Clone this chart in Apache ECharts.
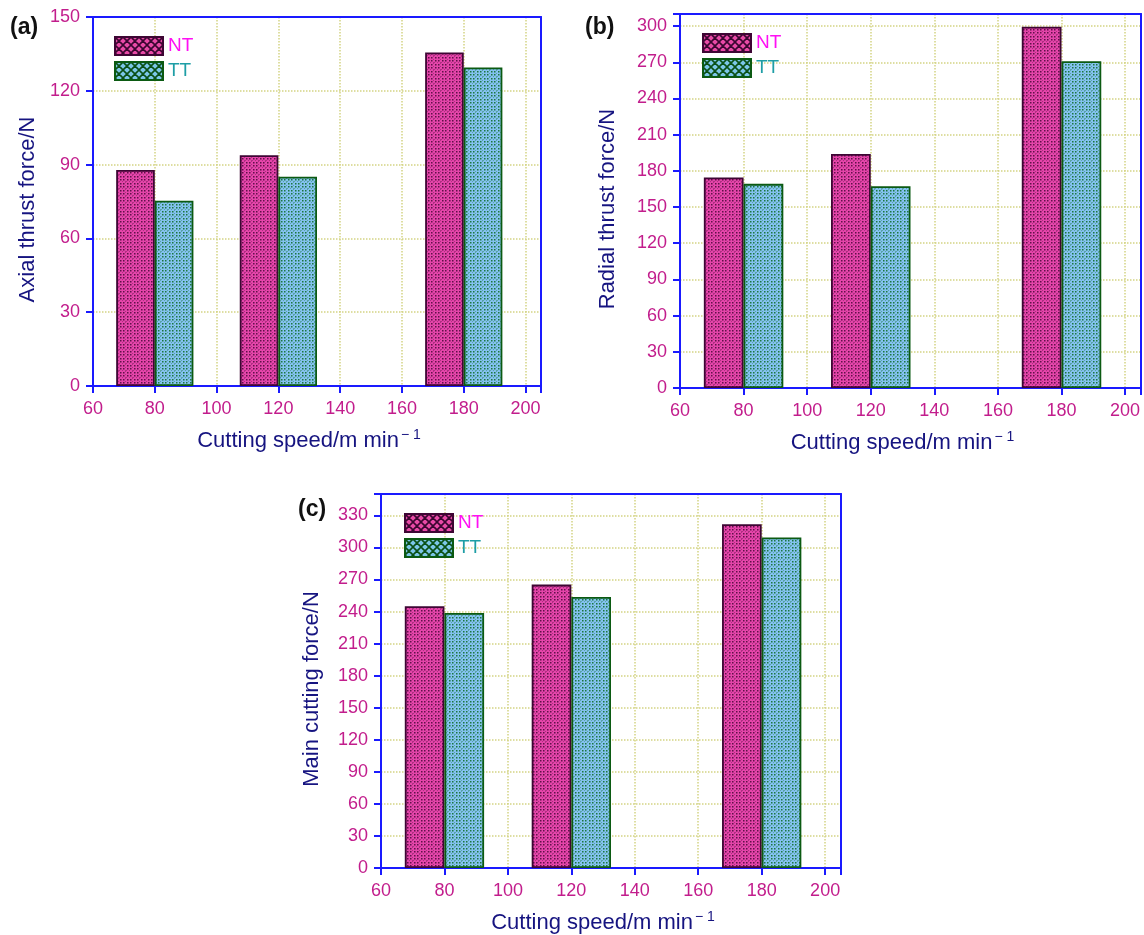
<!DOCTYPE html>
<html><head><meta charset="utf-8">
<script src="https://cdn.jsdelivr.net/npm/echarts@6/dist/echarts.min.js"></script>
<style>html,body{margin:0;padding:0;background:#fff}#c{width:1144px;height:935px}</style>
</head><body><div id="c"></div>
<script>
// ---- data ----
const speeds = [80, 120, 180];
const xTicks = [60, 80, 100, 120, 140, 160, 180, 200];
const axialNT = [87.8, 93.8, 135.6];
const axialTT = [75.3, 85.1, 129.5];
const radialNT = [174.5, 194.0, 299.5];
const radialTT = [169.2, 167.2, 270.8];
const mainNT = [245.0, 265.2, 321.8];
const mainTT = [238.6, 253.6, 309.3];
const seriesNames = ['NT', 'TT'];
const yTitles = ['Axial thrust force/N', 'Radial thrust force/N', 'Main cutting force/N'];
const panelLabels = ['(a)', '(b)', '(c)'];

// ---- patterns ----
function dotPattern(bg, dot) {
  const n = 7;
  const c = document.createElement('canvas'); c.width = n; c.height = n;
  const g = c.getContext('2d');
  g.fillStyle = bg; g.fillRect(0, 0, n, n);
  g.fillStyle = dot;
  g.globalAlpha = 0.85;
  [[1,1],[4,1],[1,4],[4,4]].forEach(p => g.fillRect(p[0], p[1], 1.5, 1.5));
  g.globalAlpha = 0.35;
  [[6,0],[6,6],[0,6],[3,6],[6,3]].forEach(p => g.fillRect(p[0], p[1], 1, 1));
  return c;
}
function hatchPattern(bg, line) {
  const c = document.createElement('canvas'); c.width = 8; c.height = 8;
  const g = c.getContext('2d');
  g.fillStyle = bg; g.fillRect(0, 0, 8, 8);
  g.strokeStyle = line; g.lineWidth = 1.6;
  g.beginPath(); g.moveTo(0, 0); g.lineTo(8, 8); g.moveTo(8, 0); g.lineTo(0, 8);
  g.moveTo(-4, 4); g.lineTo(4, -4); g.moveTo(4, 12); g.lineTo(12, 4);
  g.moveTo(-4, 4); g.lineTo(4, 12); g.moveTo(4, -4); g.lineTo(12, 4);
  g.stroke();
  return c;
}
const ntFill = { image: dotPattern('#e545aa', '#4a0838'), repeat: 'repeat' };
const ttFill = { image: dotPattern('#84c2f0', '#0a6a22'), repeat: 'repeat' };
const ntLegFill = { image: hatchPattern('#e84aa6', '#3a0630'), repeat: 'repeat' };
const ttLegFill = { image: hatchPattern('#7cc6e8', '#0a5016'), repeat: 'repeat' };
const ntBorder = '#3e0634', ttBorder = '#0b5a12';

// ---- layout ----
const panels = [
  { left: 93, top: 17, width: 448, height: 369, ymax: 150, ntv: axialNT, ttv: axialTT, yGap: 54, lab: [10, 16], leg: [114, 36] },
  { left: 680, top: 14, width: 461, height: 374, ymax: 310, ntv: radialNT, ttv: radialTT, yGap: 61, lab: [585, 16], leg: [702, 33] },
  { left: 381, top: 494, width: 460, height: 374, ymax: 350, ntv: mainNT, ttv: mainTT, yGap: 58, lab: [298, 498], leg: [404, 513] }
];
const xmin = 60, xmax = 205, barUnits = 12.5;
const FONT = '"Liberation Sans", Arial, Helvetica, sans-serif';
const tickColor = '#c21d8c', titleColor = '#161480', frameColor = '#1a1aff', gridColor = '#d4d484';

const option = { animation: false, grid: [], xAxis: [], yAxis: [], series: [], legend: [], graphic: [] };

panels.forEach((p, i) => {
  option.grid.push({ left: p.left, top: p.top, width: p.width, height: p.height, show: false });
  option.xAxis.push({
    type: 'value', gridIndex: i, min: xmin, max: xmax, interval: 20, position: 'bottom',
    name: '{t|Cutting speed/m min}{s|− 1}', nameLocation: 'middle', nameGap: 42,
    nameTextStyle: { padding: [0, 16, 0, 0], rich: {
      t: { fontFamily: FONT, fontSize: 22, color: titleColor },
      s: { fontFamily: FONT, fontSize: 14, color: titleColor, verticalAlign: 'top', padding: [0, 0, 12, 2] } } },
    axisLine: { show: true, onZero: false, lineStyle: { color: frameColor, width: 2 } },
    axisTick: { show: true, length: 7, lineStyle: { color: frameColor, width: 2 } },
    axisLabel: { color: tickColor, fontFamily: FONT, fontSize: 18, margin: 14,
      formatter: v => (xTicks.indexOf(v) >= 0 ? String(v) : '') },
    splitLine: { show: true, lineStyle: { color: gridColor, type: 'dotted', width: 1.5 } }
  });
  option.xAxis.push({
    type: 'value', gridIndex: i, min: xmin, max: xmax, position: 'top',
    axisLine: { show: true, onZero: false, lineStyle: { color: frameColor, width: 2 } },
    axisTick: { show: false }, axisLabel: { show: false }, splitLine: { show: false }
  });
  option.yAxis.push({
    type: 'value', gridIndex: i, min: 0, max: p.ymax, interval: 30, position: 'left',
    name: yTitles[i], nameLocation: 'middle', nameGap: p.yGap,
    nameTextStyle: { fontFamily: FONT, fontSize: 22, color: titleColor, padding: [0, 16, 0, 0] },
    axisLine: { show: true, onZero: false, lineStyle: { color: frameColor, width: 2 } },
    axisTick: { show: true, length: 7, lineStyle: { color: frameColor, width: 2 } },
    axisLabel: { color: tickColor, fontFamily: FONT, fontSize: 18, margin: 13,
      formatter: v => (v % 30 === 0 ? String(v) : '') },
    splitLine: { show: true, lineStyle: { color: gridColor, type: 'dotted', width: 1.5 } }
  });
  option.yAxis.push({
    type: 'value', gridIndex: i, min: 0, max: p.ymax, position: 'right',
    axisLine: { show: true, onZero: false, lineStyle: { color: frameColor, width: 2 } },
    axisTick: { show: false }, axisLabel: { show: false }, splitLine: { show: false }
  });
  const bw = p.width / (xmax - xmin) * barUnits;
  option.series.push({
    type: 'bar', name: seriesNames[0], xAxisIndex: 2 * i, yAxisIndex: 2 * i, barWidth: bw, barGap: '0%',
    data: speeds.map((s, k) => [s, p.ntv[k]]),
    itemStyle: { color: ntFill, borderColor: ntBorder, borderWidth: 1.8 }
  });
  option.series.push({
    type: 'bar', name: seriesNames[1], xAxisIndex: 2 * i, yAxisIndex: 2 * i, barWidth: bw, barGap: '0%',
    data: speeds.map((s, k) => [s, p.ttv[k]]),
    itemStyle: { color: ttFill, borderColor: ttBorder, borderWidth: 1.8 }
  });
  option.legend.push({
    left: p.leg[0], top: p.leg[1], padding: 0, orient: 'vertical', itemWidth: 48, itemHeight: 18, itemGap: 5,
    icon: 'rect', selectedMode: false,
    textStyle: { fontFamily: FONT, fontSize: 19, lineHeight: 18 },
    data: [
      { name: 'NT', itemStyle: { color: ntLegFill, borderColor: ntBorder, borderWidth: 2 }, textStyle: { color: '#ff10f4' } },
      { name: 'TT', itemStyle: { color: ttLegFill, borderColor: ttBorder, borderWidth: 2 }, textStyle: { color: '#1e9ea6' } }
    ]
  });
  option.graphic.push({ type: 'text', left: p.lab[0], top: p.lab[1],
    style: { text: panelLabels[i], font: 'bold 23px ' + FONT, fill: '#111' } });
});

const chart = echarts.init(document.getElementById('c'), null, { renderer: 'canvas' });
chart.setOption(option);
</script>
</body></html>
